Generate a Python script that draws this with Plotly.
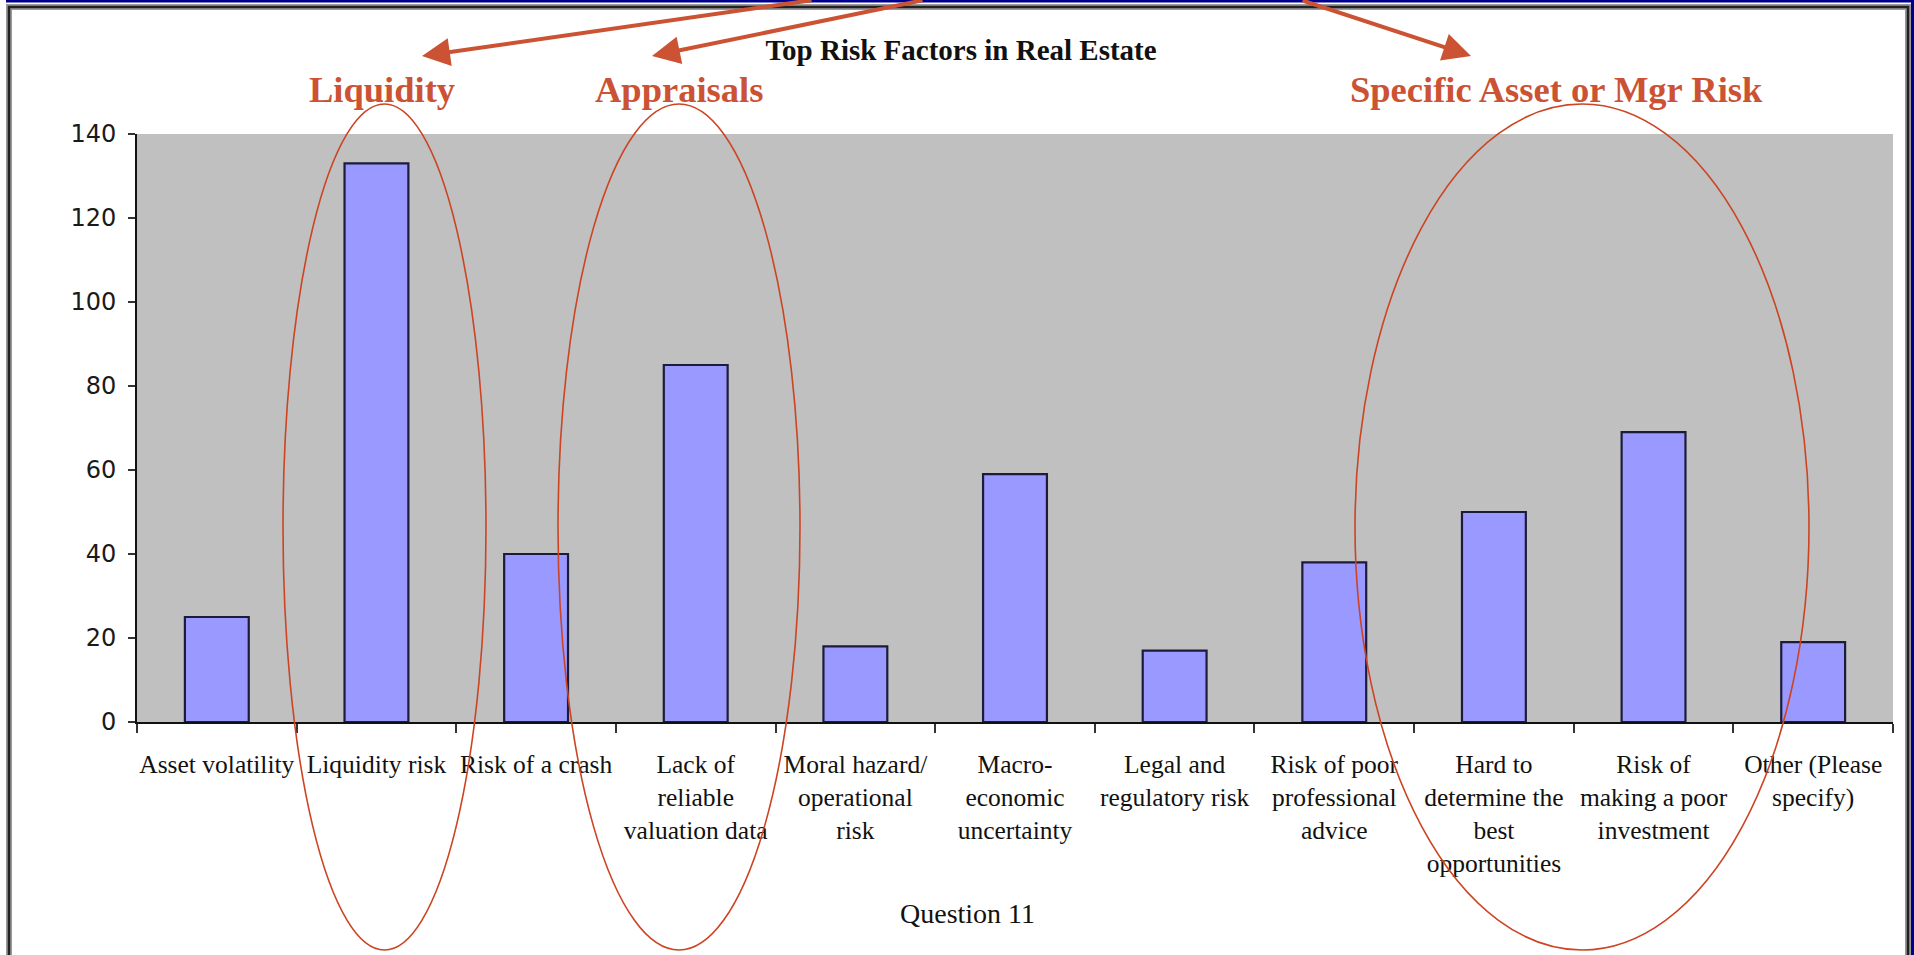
import plotly.graph_objects as go

# ---- data ----
categories = [
    "Asset volatility",
    "Liquidity risk",
    "Risk of a crash",
    "Lack of<br>reliable<br>valuation data",
    "Moral hazard/<br>operational<br>risk",
    "Macro-<br>economic<br>uncertainty",
    "Legal and<br>regulatory risk",
    "Risk of poor<br>professional<br>advice",
    "Hard to<br>determine the<br>best<br>opportunities",
    "Risk of<br>making a poor<br>investment",
    "Other (Please<br>specify)",
]
values = [25, 133, 40, 85, 18, 59, 17, 38, 50, 69, 19]
y_ticks = [0, 20, 40, 60, 80, 100, 120, 140]
chart_title = "Top Risk Factors in Real Estate"
axis_title = "Question 11"
group_labels = ["Liquidity", "Appraisals", "Specific Asset or Mgr Risk"]

# ---- layout geometry (pixels) ----
W, H = 1914, 955
L, R, T, B = 137, 21, 134, 233
PW, PH = W - L - R, H - T - B


def px(x):
    return (x - L) / PW


def py(y):
    return (H - B - y) / PH


RED = "#CB5233"
ELL = "#CC4422"

fig = go.Figure()
fig.add_trace(go.Bar(
    x=categories, y=values,
    marker=dict(color="#9999FF", line=dict(color="#1c1c3a", width=2.2)),
    showlegend=False,
))

shapes = []
# outer decoration: blue band + framed border
shapes.append(dict(type="rect", xref="paper", yref="paper",
                   x0=px(6), x1=px(1914), y0=py(0), y1=py(2.5),
                   fillcolor="#000090", line=dict(width=0), layer="above"))
shapes.append(dict(type="rect", xref="paper", yref="paper",
                   x0=px(1911), x1=px(1914), y0=py(0), y1=py(960),
                   fillcolor="#000090", line=dict(width=0), layer="above"))
shapes.append(dict(type="rect", xref="paper", yref="paper",
                   x0=px(9), x1=px(1908), y0=py(7), y1=py(975),
                   line=dict(color="#9a9a9a", width=6), layer="below"))
shapes.append(dict(type="rect", xref="paper", yref="paper",
                   x0=px(9), x1=px(1908), y0=py(7), y1=py(975),
                   line=dict(color="#222222", width=2.5), layer="below"))

# ellipses around groups
for (x0, x1) in [(283, 486), (558, 800), (1355, 1809)]:
    shapes.append(dict(type="circle", xref="paper", yref="paper",
                       x0=px(x0), x1=px(x1), y0=py(104), y1=py(950),
                       line=dict(color=ELL, width=1.6), layer="above"))

annotations = []
# red group labels
for text, cx in zip(group_labels, [382, 679, 1556]):
    annotations.append(dict(text="<b>%s</b>" % text, xref="paper", yref="paper",
                            x=px(cx), y=py(89), xanchor="center", yanchor="middle",
                            showarrow=False,
                            font=dict(family="Liberation Serif", size=36.5, color=RED)))
# arrows coming from above the page
for (hx, hy, ax, ay) in [(422, 56, 391, -66), (652, 56, 272, -66), (1471, 56, -170, -66)]:
    annotations.append(dict(text="", xref="paper", yref="paper",
                            x=px(hx), y=py(hy), ax=ax, ay=ay,
                            showarrow=True, arrowhead=2, arrowsize=1.4,
                            arrowwidth=4, arrowcolor=RED, standoff=0, startstandoff=0))
# axis title
annotations.append(dict(text=axis_title, xref="paper", yref="paper",
                        x=px(967), y=py(913), xanchor="center", yanchor="middle",
                        showarrow=False,
                        font=dict(family="Liberation Serif", size=28, color="#111111")))

fig.update_layout(
    width=W, height=H,
    margin=dict(l=L, r=R, t=T, b=B, pad=0),
    paper_bgcolor="white",
    plot_bgcolor="#C0C0C0",
    bargap=0.6,
    title=dict(text="<b>%s</b>" % chart_title, xref="paper", x=px(961), xanchor="center",
               yref="container", y=1 - 50 / H, yanchor="middle",
               font=dict(family="Liberation Serif", size=29, color="#111111")),
    shapes=shapes,
    annotations=annotations,
    xaxis=dict(
        type="category", showgrid=False, showline=True, linecolor="#111111", linewidth=2,
        ticks="outside", tickson="boundaries", ticklen=9, tickwidth=2, tickcolor="#333333",
        tickangle=0, ticklabelstandoff=18,
        tickfont=dict(family="Liberation Serif", size=25.5, color="#111111"),
    ),
    yaxis=dict(
        range=[0, 140], tickvals=y_ticks, showgrid=False, zeroline=False,
        showline=True, linecolor="#111111", linewidth=2,
        ticks="outside", ticklen=7, tickwidth=2, tickcolor="#333333",
        ticklabelstandoff=7,
        tickfont=dict(family="DejaVu Sans", size=24, color="#1a1a1a"),
    ),
)

fig.write_html("out.html")
